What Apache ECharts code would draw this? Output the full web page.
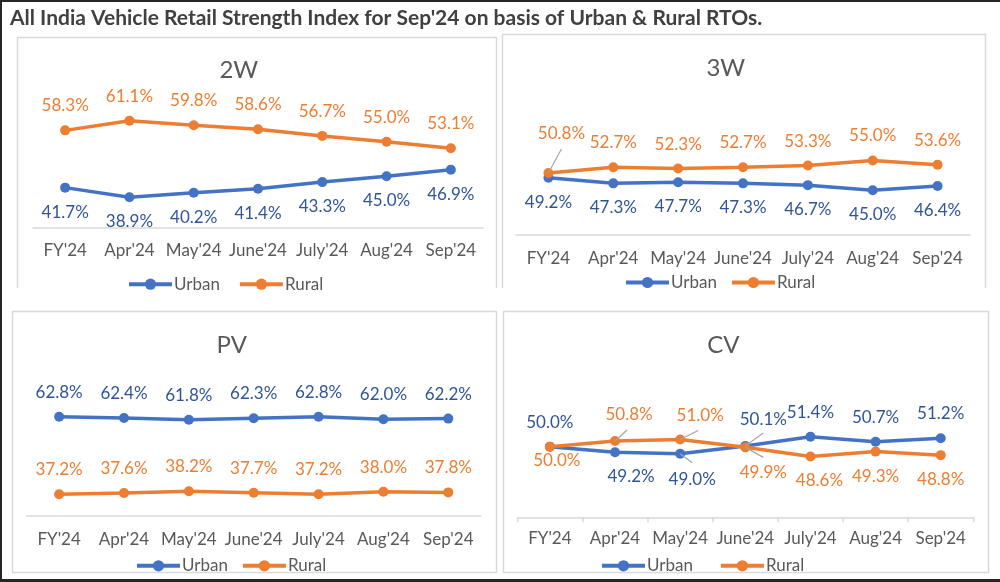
<!DOCTYPE html>
<html>
<head>
<meta charset="utf-8">
<script src="https://cdn.jsdelivr.net/npm/echarts@6/dist/echarts.min.js"></script>
<style>
html,body{margin:0;padding:0;background:#fff;}
#chart{width:1000px;height:582px;}
</style>
</head>
<body>
<div id="chart"></div>
<script>
const categories = ["FY'24","Apr'24","May'24","June'24","July'24","Aug'24","Sep'24"];
const panelTitles = ["2W","3W","PV","CV"];
const seriesNames = ["Urban","Rural"];
const urban2W = [41.7,38.9,40.2,41.4,43.3,45.0,46.9];
const rural2W = [58.3,61.1,59.8,58.6,56.7,55.0,53.1];
const urban3W = [49.2,47.3,47.7,47.3,46.7,45.0,46.4];
const rural3W = [50.8,52.7,52.3,52.7,53.3,55.0,53.6];
const urbanPV = [62.8,62.4,61.8,62.3,62.8,62.0,62.2];
const ruralPV = [37.2,37.6,38.2,37.7,37.2,38.0,37.8];
const urbanCV = [50.0,49.2,49.0,50.1,51.4,50.7,51.2];
const ruralCV = [50.0,50.8,51.0,49.9,48.6,49.3,48.8];
const yMin = [30,30,30,40];
const yMax = [70,70,70,60];

const FONT = 'Lato, "Noto Sans", sans-serif';
const BLUE = '#4472C4', ORANGE = '#ED7D31';
const BLUE_LBL = '#2F5597', ORANGE_LBL = '#ED7D31';

const T='top', B='bottom';
const panels = [
  {grid:{left:33,top:90,width:450,height:138}, title:[238.8,70.7], legend:{left:122,top:270.7,itemGap:15}, labelPos:[[B,B,B,B,B,B,B],[T,T,T,T,T,T,T]], margin:14, ticks:false,
   data:[urban2W,rural2W]},
  {grid:{left:516,top:116,width:454,height:118.7}, title:[725.8,68.3], legend:{left:619,top:269,itemGap:10}, labelPos:[[B,B,B,B,B,B,B],[T,T,T,T,T,T,T]], margin:15, ticks:false,
   data:[urban3W,rural3W]},
  {grid:{left:26.7,top:395,width:454,height:121}, title:[231.7,345], legend:{left:130,top:552.3,itemGap:10}, labelPos:[[T,T,T,T,T,T,T],[T,T,T,T,T,T,T]], margin:15, ticks:false,
   data:[urbanPV,ruralPV]},
  {grid:{left:517.3,top:376,width:456,height:141.3}, title:[723.3,345], legend:{left:595,top:552.3,itemGap:23}, labelPos:[[T,B,B,T,T,T,T],[B,T,T,B,B,B,B]], margin:13, ticks:true,
   data:[urbanCV,ruralCV]}
];

// label offsets (styling only): seriesIndex -> dataIndex -> [dx,dy]
const labelOffsets = {
  3:{0:[13,-14.5]},
  6:{1:[16,0],2:[12,1.5],3:[18,-1.5]},
  7:{0:[7,-10.5],1:[14,-2],2:[20,0],3:[18,1],4:[9,-1]}
};
// leader line end points relative to the data point
const leaders = {
  3:{0:[13,-24]},
  6:{2:[12,9],3:[18,-13]},
  7:{1:[12,-11],2:[18,-9],3:[18,10]}
};

const grids=[], xAxes=[], yAxes=[], series=[], legends=[], graphics=[];
panels.forEach((p,pi)=>{
  grids.push(Object.assign({containLabel:false}, p.grid));
  xAxes.push({type:'category', gridIndex:pi, data:categories, boundaryGap:true,
    axisLine:{show:true, lineStyle:{color:'#d9d9d9', width:1.5}},
    axisTick:{show:p.ticks, length:5, lineStyle:{color:'#d9d9d9', width:1.5}},
    axisLabel:{color:'#595959', fontSize:17, fontFamily:FONT, margin:p.margin, interval:0}});
  yAxes.push({type:'value', gridIndex:pi, min:yMin[pi], max:yMax[pi], show:false, splitLine:{show:false}});
  legends.push({left:p.legend.left, top:p.legend.top, itemGap:p.legend.itemGap+3, itemWidth:43, itemHeight:14,
    data:seriesNames, lineStyle:{width:4}, textStyle:{color:'#595959', fontSize:17, fontFamily:FONT, padding:[0,0,0,-3]}, selectedMode:false});
  p.data.forEach((arr,si)=>{
    const idx = series.length;
    const offs = labelOffsets[idx] || {};
    series.push({
      type:'line', name:seriesNames[si], xAxisIndex:pi, yAxisIndex:pi,
      data:arr.map((v,i)=>{
        const lab = {position:p.labelPos[si][i]};
        if (offs[i]) lab.offset = offs[i];
        return {value:v, label:lab};
      }),
      symbol:'circle', symbolSize:10, showSymbol:true,
      lineStyle:{width:3.5, color: si===0?BLUE:ORANGE},
      itemStyle:{color: si===0?BLUE:ORANGE},
      label:{show:true, distance:11, fontSize:17, fontFamily:FONT,
        color: si===0?BLUE_LBL:ORANGE_LBL, formatter:(q)=>q.value.toFixed(1)+'%'},
      emphasis:{disabled:true},
      z: 2+si
    });
  });
  graphics.push({type:'text', x:p.title[0], y:p.title[1], style:{text:panelTitles[pi], fill:'#595959',
    font:'24px '+FONT, textAlign:'center', textVerticalAlign:'middle'}});
});

// panel frames
graphics.push({type:'polyline', shape:{points:[[17.5,288],[17.5,37.5],[496.5,37.5],[496.5,288]]}, style:{stroke:'#d9d9d9', fill:null, lineWidth:1.5}});
graphics.push({type:'polyline', shape:{points:[[502.5,288],[502.5,34.5],[985.5,34.5],[985.5,288]]}, style:{stroke:'#d9d9d9', fill:null, lineWidth:1.5}});
graphics.push({type:'rect', shape:{x:12.5,y:311.5,width:484,height:261}, style:{stroke:'#d9d9d9', fill:null, lineWidth:1.5}});
graphics.push({type:'rect', shape:{x:503.5,y:311.5,width:485,height:261}, style:{stroke:'#d9d9d9', fill:null, lineWidth:1.5}});
// outer frame
graphics.push({type:'polyline', shape:{points:[[1,582],[1,1],[1000,1]]}, style:{stroke:'#262626', fill:null, lineWidth:2}});
graphics.push({type:'line', shape:{x1:0,y1:580.5,x2:1000,y2:580.5}, style:{stroke:'#262626', lineWidth:3}});
// main title
graphics.push({type:'text', x:10, y:18, style:{text:"All India Vehicle Retail Strength Index for Sep'24 on basis of Urban & Rural RTOs.",
  fill:'#404040', font:'bold 21px '+FONT, textAlign:'left', textVerticalAlign:'middle'}});

const chart = echarts.init(document.getElementById('chart'), null, {renderer:'canvas'});
chart.setOption({
  animation:false,
  backgroundColor:'#ffffff',
  grid:grids, xAxis:xAxes, yAxis:yAxes, legend:legends, series:series,
  graphic:{elements:graphics}
});

// leader lines computed from the data through the axes
const leaderEls = [];
Object.keys(leaders).forEach(sIdx=>{
  const s = series[sIdx];
  Object.keys(leaders[sIdx]).forEach(dIdx=>{
    const v = (typeof s.data[dIdx]==='object') ? s.data[dIdx].value : s.data[dIdx];
    const pt = chart.convertToPixel({xAxisIndex:s.xAxisIndex, yAxisIndex:s.yAxisIndex}, [Number(dIdx), v]);
    const e = leaders[sIdx][dIdx];
    leaderEls.push({type:'line', z:10, shape:{x1:pt[0], y1:pt[1], x2:pt[0]+e[0], y2:pt[1]+e[1]},
      style:{stroke:'#a6a6a6', lineWidth:1.2}});
  });
});
chart.setOption({graphic:{elements:graphics.concat(leaderEls)}});
</script>
</body>
</html>
